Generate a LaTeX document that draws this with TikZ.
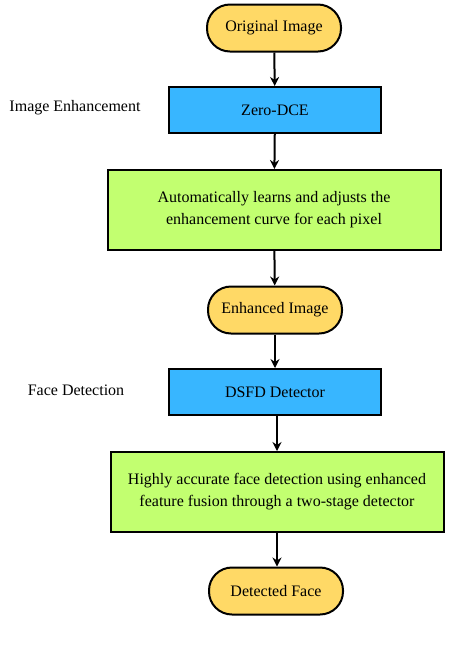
\documentclass[tikz,border=0pt]{standalone}
\usepackage{fontspec}
\setmainfont{Liberation Serif}
\usepackage{tikz}
\usetikzlibrary{positioning, arrows.meta}

\definecolor{termfill}{HTML}{FFD966}
\definecolor{procfill}{HTML}{38B6FF}
\definecolor{notefill}{HTML}{C2FF70}

\tikzset{
  terminal/.style={draw, line width=2pt, fill=termfill, rounded corners=23pt,
    minimum width=134pt, minimum height=47pt, inner sep=0pt},
  process/.style={draw, line width=2pt, fill=procfill,
    minimum width=212pt, minimum height=46pt, inner sep=0pt},
  notebox/.style={draw, line width=2pt, fill=notefill, align=center,
    minimum width=333pt, minimum height=80pt, inner sep=0pt},
  flow/.style={-{Stealth[length=9pt, width=9pt]}, line width=2pt},
  stage/.style={inner sep=0pt}
}

\begin{document}
\begin{tikzpicture}[x=1pt, y=-1pt, font=\fontsize{16}{22}\selectfont]

    \useasboundingbox (0,0) rectangle (461,657);

    % Stufe 1
    \node[terminal] (orig) at (274,28) {Original Image};
    \node[process] (zdce) at (275,110) {Zero-DCE};
    \node[stage] (lblEnh) at (75,108) {Image Enhancement};
    \node[notebox] (curve) at (274,210) {Automatically learns and adjusts the\\enhancement curve for each pixel};
    \node[terminal] (enh) at (275,310) {Enhanced Image};

    % Stufe 2
    \node[process] (dsfd) at (275,392) {DSFD Detector};
    \node[stage] (lblFace) at (76,390) {Face Detection};
    \node[notebox] (fusion) at (277,492) {Highly accurate face detection using enhanced\\feature fusion through a two-stage detector};
    \node[terminal] (face) at (276,591) {Detected Face};

    % Pfeile
    \draw[flow] (orig) -- (zdce);
    \draw[flow] (zdce) -- (curve);
    \draw[flow] (curve) -- (enh);
    \draw[flow] (enh) -- (dsfd);
    \draw[flow] (dsfd.south -| fusion) -- (fusion);
    \draw[flow] (fusion) -- (face.north -| fusion);

\end{tikzpicture}
\end{document}
